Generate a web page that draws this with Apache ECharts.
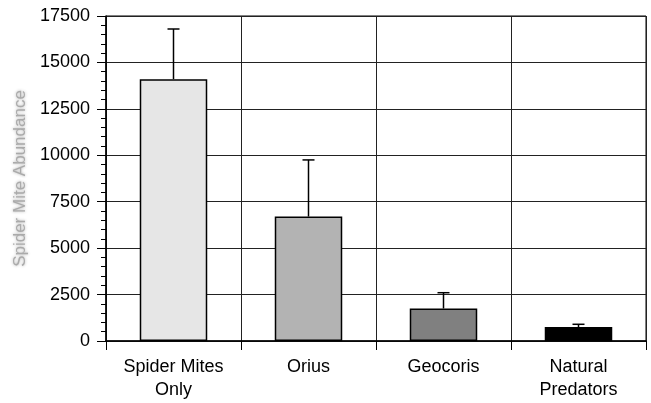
<!DOCTYPE html>
<html>
<head>
<meta charset="utf-8">
<script src="https://cdn.jsdelivr.net/npm/echarts@6/dist/echarts.min.js"></script>
<style>
  html, body { margin: 0; padding: 0; background: #fff; }
  #chart { width: 651px; height: 403px; }
</style>
</head>
<body>
<div id="chart"></div>
<script>
// Treatments and mean spider mite abundance with upper error bar limits
const categories = ['Spider Mites\nOnly', 'Orius', 'Geocoris', 'Natural\nPredators'];
const meanAbundance = [14100, 6700, 1750, 750];
const errorUpper = [16800, 9750, 2600, 900];
const barColors = ['#e6e6e6', '#b3b3b3', '#808080', '#000000'];
const yTicks = { min: 0, max: 17500, interval: 2500 };

const FONT = 'Liberation Sans, Arial, sans-serif';

const chart = echarts.init(document.getElementById('chart'), null, { renderer: 'canvas' });

chart.setOption({
  animation: false,
  backgroundColor: '#ffffff',
  textStyle: { fontFamily: FONT },
  grid: {
    left: 106, right: 5, top: 16, bottom: 62,
    show: true, borderColor: '#000', borderWidth: 1
  },
  xAxis: {
    type: 'category',
    data: categories,
    boundaryGap: true,
    axisLine: { show: true, lineStyle: { color: '#000', width: 1.5 } },
    axisTick: { show: true, alignWithLabel: false, length: 9, lineStyle: { color: '#000' } },
    splitLine: { show: true, lineStyle: { color: '#222', width: 1 } },
    axisLabel: {
      color: '#000', fontSize: 18, fontFamily: FONT, margin: 15, lineHeight: 23
    }
  },
  yAxis: {
    type: 'value',
    min: yTicks.min, max: yTicks.max, interval: yTicks.interval,
    name: 'Spider Mite Abundance',
    nameLocation: 'middle',
    nameGap: 72,
    nameTextStyle: {
      color: '#aaaaaa', fontSize: 17, fontFamily: FONT,
      textShadowColor: 'rgba(160,160,160,0.9)', textShadowBlur: 3
    },
    axisLine: { show: true, lineStyle: { color: '#000', width: 1.5 } },
    axisTick: { show: true, length: 9, lineStyle: { color: '#000' } },
    minorTick: { show: true, splitNumber: 5, length: 5, lineStyle: { color: '#000' } },
    splitLine: { show: true, lineStyle: { color: '#222', width: 1 } },
    axisLabel: {
      color: '#000', fontSize: 18, fontFamily: FONT, margin: 16,
      formatter: v => String(v)
    }
  },
  series: [
    {
      type: 'bar',
      barWidth: '50%',
      data: meanAbundance.map((v, i) => ({
        value: v,
        itemStyle: { color: barColors[i], borderColor: '#000', borderWidth: 1.5 }
      })),
      z: 3
    },
    {
      type: 'custom',
      z: 2,
      data: meanAbundance.map((v, i) => [i, v, errorUpper[i]]),
      renderItem: function (params, api) {
        const x = api.value(0);
        const base = api.coord([x, api.value(1)]);
        const top = api.coord([x, api.value(2)]);
        const half = 6;
        const style = { stroke: '#000', lineWidth: 1.5 };
        return {
          type: 'group',
          children: [
            { type: 'line', shape: { x1: base[0], y1: base[1], x2: top[0], y2: top[1] }, style: style },
            { type: 'line', shape: { x1: top[0] - half, y1: top[1], x2: top[0] + half, y2: top[1] }, style: style }
          ]
        };
      }
    }
  ]
});
</script>
</body>
</html>
